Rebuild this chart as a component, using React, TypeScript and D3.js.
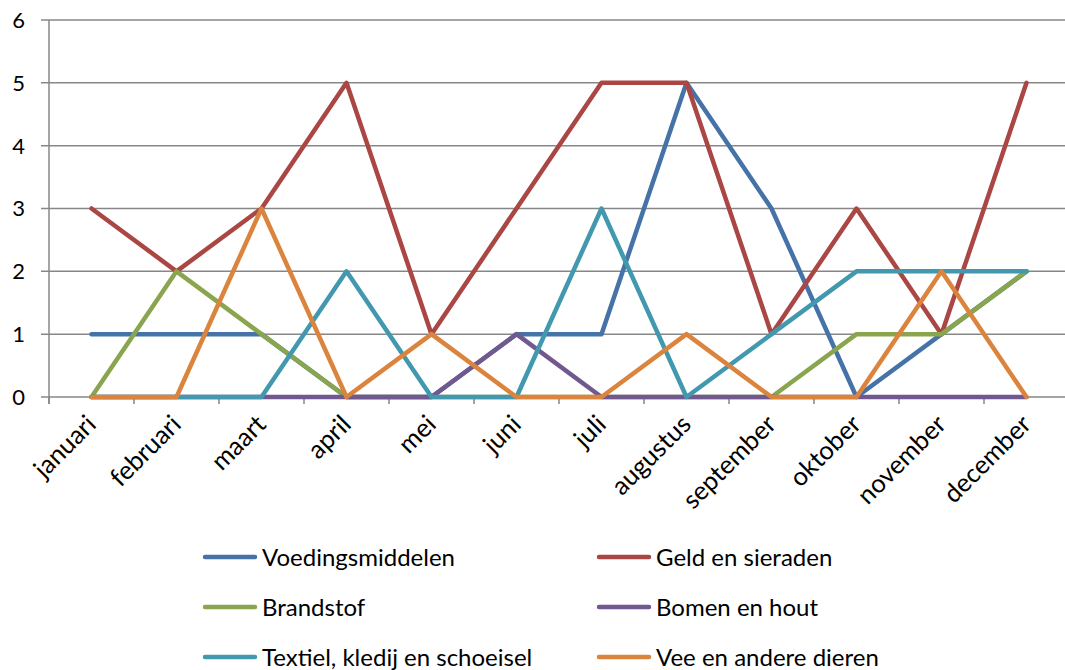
import React from "react";
import * as d3 from "d3";

const months = ["januari","februari","maart","april","mei","juni","juli","augustus","september","oktober","november","december"];
const seriesNames = ["Voedingsmiddelen","Geld en sieraden","Brandstof","Bomen en hout","Textiel, kledij en schoeisel","Vee en andere dieren"];
const voedingsmiddelen = [1,1,1,0,0,1,1,5,3,0,1,2];
const geldEnSieraden = [3,2,3,5,1,3,5,5,1,3,1,5];
const brandstof = [0,2,1,0,0,0,0,0,0,1,1,2];
const bomenEnHout = [0,0,0,0,0,1,0,0,0,0,0,0];
const textiel = [0,0,0,2,0,0,3,0,1,2,2,2];
const vee = [0,0,3,0,1,0,0,1,0,0,2,0];
const seriesValues = [voedingsmiddelen, geldEnSieraden, brandstof, bomenEnHout, textiel, vee];
const colors = ["#4572A7","#AA4643","#89A54E","#71588F","#4198AF","#DB843D"];
const yTicks = [0,1,2,3,4,5,6];

const W = 1065, H = 670;
const FONT = "Lato, 'Open Sans', sans-serif";

export default function App() {
  const x = d3.scaleBand<string>().domain(months).range([49, 1069]);
  const cx = (m: string) => (x(m) as number) + x.bandwidth() / 2;
  const y = d3.scaleLinear().domain([0, 6]).range([397, 20]);
  const line = d3.line<number>().x((_, i) => cx(months[i])).y((d) => y(d));

  const legendCols = [205, 599];
  const legendRows = [557, 607, 657];

  return (
    <svg width={W} height={H} style={{ position: "absolute", left: 0, top: 0, background: "#fff" }} fontFamily={FONT}>
      {yTicks.map((t) => (
        <g key={t}>
          <line x1={41} x2={W} y1={y(t)} y2={y(t)} stroke="#878787" strokeWidth={1.5} />
          <text x={25} y={y(t)} dy="0.36em" textAnchor="end" fontSize={22} fill="#000">{t}</text>
        </g>
      ))}
      <line x1={49} x2={49} y1={y(6)} y2={404} stroke="#878787" strokeWidth={1.5} />
      {d3.range(months.length + 1).map((i) => {
        const xx = 49 + i * x.bandwidth();
        return <line key={i} x1={xx} x2={xx} y1={397} y2={404} stroke="#878787" strokeWidth={1.5} />;
      })}
      {months.map((m) => (
        <text key={m} transform={`translate(${cx(m) + 6},${426}) rotate(-45)`} textAnchor="end" fontSize={25.5} fill="#000">{m}</text>
      ))}
      {seriesValues.map((vals, i) => (
        <path key={seriesNames[i]} d={line(vals) as string} fill="none" stroke={colors[i]} strokeWidth={4.5} strokeLinejoin="round" strokeLinecap="round" />
      ))}
      {seriesNames.map((name, i) => {
        const lx = legendCols[i % 2];
        const ly = legendRows[Math.floor(i / 2)];
        return (
          <g key={name}>
            <line x1={lx} x2={lx + 50} y1={ly} y2={ly} stroke={colors[i]} strokeWidth={4.5} strokeLinecap="round" />
            <text x={lx + 57} y={ly} dy="0.36em" fontSize={24} fill="#000">{name}</text>
          </g>
        );
      })}
    </svg>
  );
}
